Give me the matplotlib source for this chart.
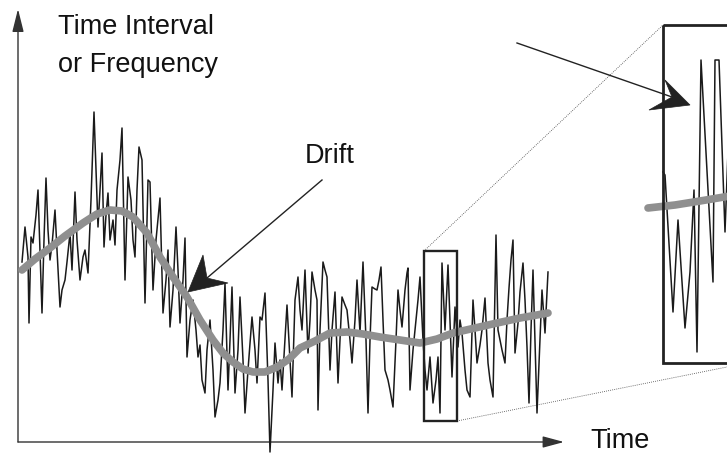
import matplotlib.pyplot as plt
from matplotlib.patches import Rectangle, Polygon

# Schematic: noisy signal (time interval / frequency) with a slow drift.
# Coordinates are in drawing units (x right, y down), matching the original sketch.

noise_x = [22, 25, 28, 29, 31, 33, 36, 38, 40, 42, 44, 46, 48, 50, 52, 55, 57, 60, 62, 65,
           67, 70, 72, 75, 77, 80, 83, 85, 88, 91, 94, 96, 98, 100, 102, 104, 106, 108, 110, 113,
           115, 117, 120, 122, 125, 128, 131, 133, 135, 137, 139, 142, 145, 148,
           150, 153, 156, 160, 163, 166, 168, 170, 173, 176, 178, 180, 183, 185, 187, 190,
           193, 196, 198, 200, 202, 205, 207, 210, 213, 215, 218, 220, 223, 225, 228, 230,
           232, 235, 238, 240, 243, 245, 248, 252, 255, 257, 260, 262, 265, 268, 270, 273,
           275, 278,
           280, 282, 285, 287, 290, 292, 294, 295, 298, 300, 302, 305, 308, 310, 312, 315,
           317, 318, 320, 323, 325, 327, 330, 332, 335, 338, 340, 342, 345, 347, 350, 352,
           355, 357, 360, 363, 366, 368, 370, 372, 375, 377, 379, 381, 383, 385, 388, 390,
           393, 396, 398, 400, 402, 405, 407,
           408, 410, 413, 415, 418, 420, 423, 425, 427, 430, 433, 436, 438, 440, 442, 445,
           448, 450, 452, 455, 458, 460, 462, 465, 467, 470, 473, 475, 477, 480, 482, 485,
           488, 490, 493, 496, 498, 502, 505, 507, 509, 511, 513, 515, 518, 520, 523, 525,
           527, 529, 531, 533, 535, 537, 540, 542, 545, 548]
noise_y = [262, 227, 257, 323, 237, 243, 215, 190, 250, 313, 240, 178, 230, 260, 245, 210, 250, 307, 290, 280,
           262, 233, 270, 192, 240, 280, 257, 250, 273, 200, 112, 170, 227, 190, 153, 247, 215, 193, 240, 220,
           245, 190, 160, 128, 280, 177, 200, 240, 257, 190, 147, 160, 303, 180,
           182, 290, 240, 198, 313, 280, 250, 327, 290, 227, 270, 323, 280, 238, 357, 320,
           300, 330, 357, 345, 380, 393, 350, 320, 370, 417, 400, 383, 330, 283, 390, 340,
           287, 393, 350, 297, 360, 413, 370, 317, 350, 383, 317, 320, 293, 380, 452, 390,
           343, 383,
           360, 390, 340, 305, 360, 397, 330, 300, 277, 310, 330, 270, 353, 320, 272, 290,
           300, 410, 330, 262, 270, 277, 370, 330, 292, 383, 340, 297, 305, 310, 340, 363,
           320, 280, 333, 262, 340, 413, 340, 287, 289, 290, 280, 267, 320, 370, 380, 390,
           407, 340, 290, 310, 327, 290, 273,
           268, 390, 350, 330, 300, 277, 340, 370, 390, 357, 403, 380, 357, 413, 263, 330,
           265, 320, 377, 307, 347, 320, 333, 370, 390, 397, 300, 330, 363, 345, 330, 298,
           363, 380, 397, 235, 330, 350, 363, 320, 288, 260, 240, 353, 323, 292, 263, 300,
           347, 403, 330, 270, 340, 413, 340, 290, 333, 272]

drift_x = [22, 35, 50, 65, 83, 97, 110, 122, 133, 147, 160, 173, 187, 200, 213, 223, 233, 243,
           253, 265, 277, 289, 300, 315, 330, 347, 363, 380, 400, 420, 437, 453, 475, 497, 520, 548]
drift_y = [270, 259, 248, 236, 223, 214, 210, 211, 217, 233, 257, 277, 297, 320, 340, 353, 362, 369,
           372, 372, 367, 359, 348, 341, 333, 332, 334, 337, 340, 343, 339, 333, 328, 323, 318, 313]

# magnified view of the boxed section
zoom_x = [663, 665, 673, 678, 685, 690, 694, 697, 701, 713, 715, 719, 725, 729]
zoom_y = [172, 175, 312, 220, 328, 272, 190, 352, 60, 282, 60, 60, 232, 125]
zoom_drift_x = [648, 675, 700, 730]
zoom_drift_y = [208, 205, 201, 196]

fig = plt.figure(figsize=(7.27, 4.54), dpi=100)
ax = fig.add_axes([0, 0, 1, 1])
ax.set_xlim(0, 727)
ax.set_ylim(454, 0)
ax.axis("off")

font = ["Liberation Sans", "DejaVu Sans"]
axis_col = "#333333"
ink = "#1a1a1a"

# axes with arrow heads
ax.annotate("", xy=(18, 9), xytext=(18, 442),
            arrowprops=dict(arrowstyle="-|>,head_length=1.4,head_width=0.35", color=axis_col, lw=1.0,
                            shrinkA=0, shrinkB=0))
ax.annotate("", xy=(564, 442), xytext=(18, 442),
            arrowprops=dict(arrowstyle="-|>,head_length=1.3,head_width=0.35", color=axis_col, lw=1.0,
                            shrinkA=0, shrinkB=0))

# signal and drift
ax.plot(noise_x, noise_y, color=ink, lw=1.1, zorder=3)
ax.plot(drift_x, drift_y, color="#8f8f8f", lw=5.5, solid_capstyle="round", zorder=4)

# small box and dotted lines to the magnified box
ax.add_patch(Rectangle((424, 251), 33, 170, fill=False, ec="#222222", lw=1.7, zorder=5))
ax.plot([424, 663], [251, 25], color="#444444", lw=0.6, ls=(0, (1, 1.5)))
ax.plot([457, 747], [421, 363], color="#444444", lw=0.6, ls=(0, (1, 1.5)))

# magnified box
ax.add_patch(Rectangle((663, 25), 84, 338, fill=False, ec="#222222", lw=2.0, zorder=5))
ax.plot(zoom_drift_x, zoom_drift_y, color="#8f8f8f", lw=5.5, solid_capstyle="round", zorder=4)
ax.plot(zoom_x, zoom_y, color=ink, lw=1.1, zorder=3)

# drift arrow
ax.plot([322, 207], [180, 278], color="#222222", lw=1.0)
ax.add_patch(Polygon([(188, 292), (203, 255), (207, 278), (228, 283)], closed=True,
                     fc="#222222", ec="#222222", lw=0.5, zorder=6))

# arrow pointing into the magnified box
ax.plot([517, 672], [43, 97], color="#222222", lw=1.0)
ax.add_patch(Polygon([(690, 105), (665, 80), (672, 97), (649, 110)], closed=True,
                     fc="#222222", ec="#222222", lw=0.5, zorder=6))

# labels
ax.text(58, 34, "Time Interval", family=font, fontsize=19.5, va="baseline", ha="left", color="#111111")
ax.text(58, 72, "or Frequency", family=font, fontsize=19.5, va="baseline", ha="left", color="#111111")
ax.text(305, 163, "Drift", family=font, fontsize=19.5, va="baseline", ha="left", color="#111111")
ax.text(590, 448, "Time", family=font, fontsize=19.5, va="baseline", ha="left", color="#111111")

fig.savefig("out.png", dpi=100)
